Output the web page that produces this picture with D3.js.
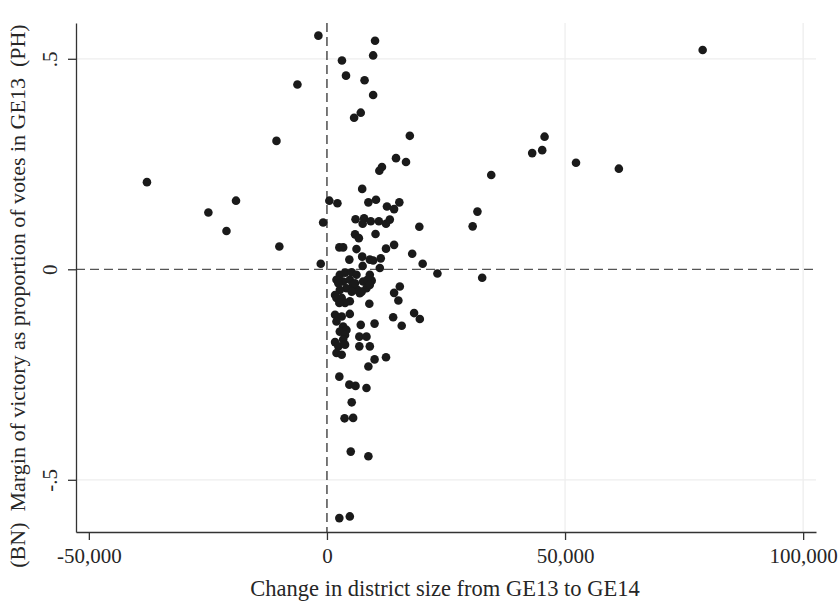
<!DOCTYPE html>
<html>
<head>
<meta charset="utf-8">
<script src="https://cdn.jsdelivr.net/npm/d3@7"></script>
<style>
	body { margin: 0; background: #fff; }
	svg text { font-family: "Liberation Serif", "Times New Roman", serif; fill: #262626; }
</style>
</head>
<body>
<div id="chart"></div>
<script>
(function () {
'use strict';

// change in district size (GE13 -> GE14), one entry per district
var districtChange = [
	-37800, -24900, -21100, -19100, -10600, -10000, -6200, -1800, -1300, -800,
	500, 2200, 3150, 4000, 7900, 9700, 10100, 9700, 7100, 5700,
	17400, 14500, 16600, 11550, 11000, 7400, 8700, 10300, 12600, 14100,
	15200, 6000, 7800, 7500, 9200, 10900, 12400, 13200, 19400, 5900,
	6700, 10200, 2600, 3400, 6200, 14100, 12400, 7400, 4700, 9000,
	9700, 11300, 17900, 20100, 7500, 78900, 45700, 45200, 43100, 52300,
	61300, 34500, 31600, 30600, 23200, 32600, 19500, 18300, 15300, 14100,
	15000, 8900, 13900, 15700, 7100, 10000, 6800, 8300, 6800, 9000,
	10000, 12400, 8700, 2600, 4700, 6000, 8300, 5200, 3700, 5500,
	5000, 8700, 2600, 4800, 11100,
	2700, 3800, 5200, 6200, 9000, 9400, 7600, 8300, 6900, 6400,
	2000, 3400, 4800, 5500, 4100, 2700, 1700, 3100, 4800, 3800,
	2000, 2400, 5200, 5900, 8500, 9000, 7300, 1700, 3100, 4800,
	2000, 3400, 2700, 4100, 3800, 1700, 3400, 2400, 3800, 2000,
	3100, 2600
];

// margin of victory as proportion of GE13 votes, same order
var victoryMargin = [
	0.207, 0.135, 0.091, 0.163, 0.305, 0.054, 0.439, 0.555, 0.013, 0.111,
	0.163, 0.157, 0.496, 0.460, 0.449, 0.508, 0.543, 0.414, 0.372, 0.360,
	0.317, 0.264, 0.255, 0.243, 0.234, 0.191, 0.159, 0.165, 0.149, 0.143,
	0.159, 0.119, 0.121, 0.108, 0.114, 0.114, 0.108, 0.118, 0.101, 0.083,
	0.074, 0.084, 0.052, 0.052, 0.048, 0.058, 0.049, 0.030, 0.023, 0.023,
	0.021, 0.026, 0.037, 0.013, 0.008, 0.521, 0.315, 0.283, 0.276, 0.253,
	0.239, 0.224, 0.137, 0.102, -0.010, -0.020, -0.118, -0.104, -0.041, -0.056,
	-0.074, -0.082, -0.114, -0.134, -0.132, -0.129, -0.160, -0.160, -0.183, -0.183,
	-0.214, -0.209, -0.231, -0.255, -0.274, -0.277, -0.282, -0.316, -0.354, -0.353,
	-0.433, -0.444, -0.591, -0.587, 0.003,
	-0.013, -0.008, -0.007, -0.013, -0.013, -0.027, -0.029, -0.045, -0.057, -0.049,
	-0.025, -0.029, -0.025, -0.037, -0.045, -0.049, -0.061, -0.068, -0.076, -0.080,
	-0.068, -0.033, -0.053, -0.033, -0.025, -0.037, -0.053, -0.108, -0.112, -0.106,
	-0.124, -0.136, -0.148, -0.144, -0.156, -0.173, -0.167, -0.183, -0.179, -0.199,
	-0.203, -0.080
];

var xTicks = [-50000, 0, 50000, 100000];
var yTicks = [-0.5, 0, 0.5];
var yTickLabels = ["-.5", "0", ".5"];
var xGrid = [50000, 100000];
var yGrid = [-0.5, 0.5];

var xTitle = "Change in district size from GE13 to GE14";
var yTitle = "(BN)\u00a0 Margin of victory as proportion of votes in GE13\u00a0 (PH)";

var width = 840, height = 605;
// plot box
var left = 76, right = 816, top = 23, bottom = 532;

var svg = d3.select("#chart").append("svg")
	.attr("width", width)
	.attr("height", height);

var x = d3.scaleLinear().domain([-52700, 102700]).range([left, right]);
var y = d3.scaleLinear().domain([-0.624, 0.585]).range([bottom, top]);

var points = districtChange.map(function(d, i){
	return {x: d, y: victoryMargin[i]};
});
console.log("[scatter] points: %d", points.length);

// stata prints a plain hyphen, not the unicode minus d3 uses
var commaFmt = d3.format(",");
var xFmt = function(d){ return commaFmt(d).replace("\u2212", "-"); };

// light gridlines
svg.append("g").selectAll("line.gx").data(xGrid).enter()
	.append("line")
		.attr("x1", function(d){ return x(d); })
		.attr("x2", function(d){ return x(d); })
		.attr("y1", top)
		.attr("y2", bottom)
		.attr("stroke", "#eeeeee")
		.attr("stroke-width", 1.3);
svg.append("g").selectAll("line.gy").data(yGrid).enter()
	.append("line")
		.attr("x1", left)
		.attr("x2", right)
		.attr("y1", function(d){ return y(d); })
		.attr("y2", function(d){ return y(d); })
		.attr("stroke", "#eeeeee")
		.attr("stroke-width", 1.3);

// reference lines at zero
svg.append("line")
	.attr("x1", x(0)).attr("x2", x(0))
	.attr("y1", top).attr("y2", bottom)
	.attr("stroke", "#333")
	.attr("stroke-width", 1.3)
	.attr("stroke-dasharray", "9,5");
svg.append("line")
	.attr("x1", left).attr("x2", right)
	.attr("y1", y(0)).attr("y2", y(0))
	.attr("stroke", "#555")
	.attr("stroke-width", 1.3)
	.attr("stroke-dasharray", "9,5");

// dots
svg.append("g").selectAll("circle").data(points).enter()
	.append("circle")
		.attr("cx", function(d){ return x(d.x); })
		.attr("cy", function(d){ return y(d.y); })
		.attr("r", 4.3)
		.attr("fill", "#1a1a1a");

// x axis
var xAxis = svg.append("g")
	.attr("transform", "translate(0," + bottom + ")")
	.call(d3.axisBottom(x).tickValues(xTicks).tickFormat(xFmt).tickSize(8).tickSizeOuter(0));
xAxis.select(".domain").attr("stroke", "#333").attr("stroke-width", 1.3);
xAxis.selectAll(".tick line").attr("stroke", "#333").attr("stroke-width", 1.3);
xAxis.selectAll(".tick text")
	.attr("y", 31)
	.attr("dy", 0)
	.attr("font-size", 21);

// y axis, labels rotated like stata does
var yAxis = svg.append("g")
	.attr("transform", "translate(" + left + ",0)")
	.call(d3.axisLeft(y).tickValues(yTicks).tickFormat(function(d, i){ return yTickLabels[i]; }).tickSize(8).tickSizeOuter(0));
yAxis.select(".domain").attr("stroke", "#333").attr("stroke-width", 1.3);
yAxis.selectAll(".tick line").attr("stroke", "#333").attr("stroke-width", 1.3);
yAxis.selectAll(".tick text")
	.attr("x", 0)
	.attr("dy", 0)
	.attr("text-anchor", "middle")
	.attr("transform", "translate(-19,0) rotate(-90)")
	.attr("font-size", 21);

// titles
svg.append("text")
	.attr("x", 445)
	.attr("y", 596)
	.attr("text-anchor", "middle")
	.attr("font-size", 22.5)
	.text(xTitle);
svg.append("text")
	.attr("transform", "translate(25,296) rotate(-90)")
	.attr("text-anchor", "middle")
	.attr("font-size", 22)
	.text(yTitle);

}());
</script>
</body>
</html>
